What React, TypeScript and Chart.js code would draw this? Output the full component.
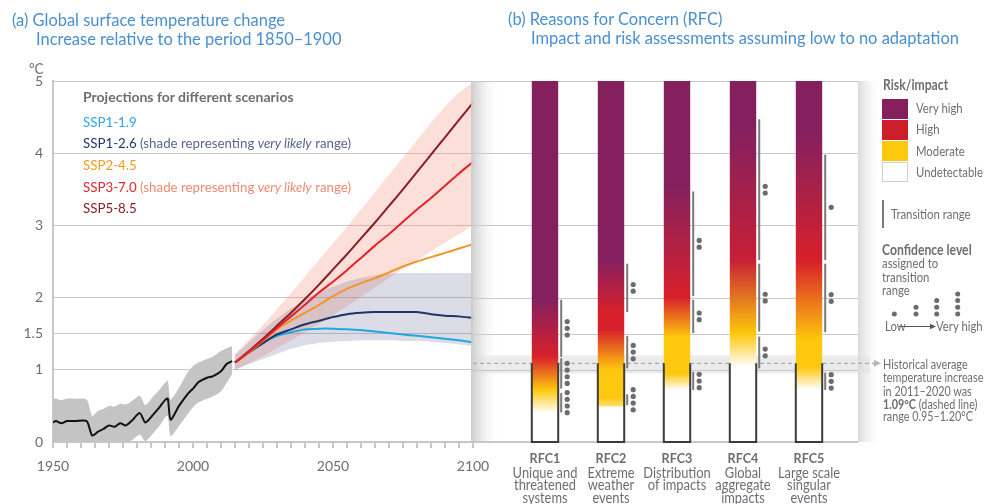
import React, { useEffect, useRef } from "react";
import { Chart, registerables } from "chart.js";
Chart.register(...registerables);

const FONT = 'Lato, "Noto Sans", sans-serif';
const GRAY_TEXT = "#6d6e71";
const GRID = "#c8c8c8";

// ---------- Panel (a) data ----------
const histYears = [1950, 1951, 1953, 1955, 1958, 1962, 1964, 1966, 1968, 1970, 1972, 1974, 1976, 1978, 1981, 1983, 1986, 1988, 1990, 1991, 1992, 1995, 1998, 2000, 2002, 2005, 2007, 2010, 2012, 2014];
const histMean = [0.27, 0.29, 0.26, 0.29, 0.29, 0.29, 0.09, 0.14, 0.18, 0.23, 0.21, 0.26, 0.23, 0.29, 0.40, 0.27, 0.39, 0.48, 0.58, 0.60, 0.31, 0.50, 0.66, 0.74, 0.83, 0.89, 0.91, 0.98, 1.08, 1.12];
const histHigh = [0.60, 0.60, 0.58, 0.60, 0.60, 0.59, 0.36, 0.43, 0.46, 0.50, 0.49, 0.53, 0.52, 0.56, 0.64, 0.51, 0.64, 0.72, 0.82, 0.85, 0.59, 0.75, 0.96, 1.05, 1.10, 1.15, 1.18, 1.26, 1.30, 1.33];
const histLow = [0, 0, 0, 0, 0, 0, 0, 0, 0, 0, 0, 0, 0, 0.02, 0.10, 0.01, 0.13, 0.22, 0.34, 0.36, 0.08, 0.22, 0.38, 0.48, 0.55, 0.60, 0.63, 0.70, 0.82, 0.94];

const projYears = [2015, 2020, 2025, 2030, 2035, 2040, 2045, 2050, 2055, 2060, 2065, 2070, 2075, 2080, 2085, 2090, 2095, 2100];
const ssp119 = [1.10, 1.24, 1.37, 1.47, 1.52, 1.56, 1.57, 1.57, 1.56, 1.55, 1.53, 1.51, 1.49, 1.47, 1.45, 1.43, 1.41, 1.38];
const ssp126 = [1.10, 1.24, 1.37, 1.49, 1.56, 1.63, 1.68, 1.73, 1.77, 1.79, 1.80, 1.80, 1.80, 1.80, 1.77, 1.75, 1.74, 1.72];
const ssp245 = [1.10, 1.24, 1.40, 1.56, 1.68, 1.79, 1.90, 2.02, 2.12, 2.20, 2.27, 2.35, 2.43, 2.50, 2.56, 2.62, 2.68, 2.74];
const ssp370 = [1.10, 1.25, 1.41, 1.58, 1.74, 1.90, 2.07, 2.22, 2.38, 2.55, 2.72, 2.88, 3.05, 3.22, 3.38, 3.55, 3.72, 3.88];
const ssp585 = [1.10, 1.26, 1.43, 1.61, 1.79, 1.98, 2.18, 2.39, 2.60, 2.82, 3.04, 3.27, 3.50, 3.74, 3.98, 4.22, 4.46, 4.70];
const ssp126Low = [1.00, 1.08, 1.15, 1.22, 1.29, 1.34, 1.37, 1.39, 1.40, 1.41, 1.41, 1.41, 1.40, 1.40, 1.39, 1.37, 1.35, 1.33];
const ssp126High = [1.20, 1.38, 1.55, 1.71, 1.85, 1.97, 2.07, 2.15, 2.22, 2.27, 2.31, 2.33, 2.34, 2.34, 2.34, 2.34, 2.34, 2.34];
const ssp370Low = [1.00, 1.09, 1.19, 1.30, 1.41, 1.52, 1.64, 1.76, 1.88, 2.01, 2.14, 2.27, 2.40, 2.52, 2.64, 2.76, 2.88, 3.00];
const ssp370High = [1.22, 1.42, 1.62, 1.84, 2.06, 2.29, 2.52, 2.75, 2.98, 3.22, 3.46, 3.70, 3.94, 4.18, 4.42, 4.64, 4.84, 4.98];

const yTicks = [0, 1, 1.5, 2, 3, 4, 5];
const xLabelYears = [1950, 2000, 2050, 2100];

// ---------- Panel (b) data ----------
const rfcNames = ["RFC1", "RFC2", "RFC3", "RFC4", "RFC5"];
const rfcDescriptions = [
  ["Unique and", "threatened", "systems"],
  ["Extreme", "weather", "events"],
  ["Distribution", "of impacts"],
  ["Global", "aggregate", "impacts"],
  ["Large scale", "singular", "events"],
];
const riskLevels = ["Undetectable", "Moderate", "High", "Very high"];
const riskTop = 5;
// [temperature °C, risk level (0 undetectable … 3 very high)]
const rfcGradients = [
  [[5, 3], [1.97, 3], [1.18, 2], [0.72, 1], [0.4, 0], [0, 0]],
  [[5, 3], [2.52, 3], [1.8, 2], [1.55, 2], [1.0, 1], [0.62, 1], [0.495, 0.6], [0.49, 0], [0, 0]],
  [[5, 3], [3.54, 3], [2.0, 2], [1.45, 1], [0.95, 1], [0.72, 0], [0, 0]],
  [[5, 3], [4.3, 3], [2.52, 2.2], [1.5, 1], [1.04, 0], [0, 0]],
  [[5, 3], [4.28, 3], [2.5, 2], [1.41, 1], [1.04, 1], [0.72, 0], [0, 0]],
];
// [low °C, high °C, confidence dots]
const rfcTransitions = [
  [[1.18, 1.97, 3], [0.74, 1.16, 4], [0.41, 0.68, 4]],
  [[1.8, 2.47, 2], [1.02, 1.47, 3], [0.51, 0.66, 4]],
  [[2.02, 3.47, 2], [1.51, 1.97, 2], [0.72, 0.97, 3]],
  [[2.52, 4.47, 2], [1.53, 2.47, 2], [1.02, 1.46, 2]],
  [[2.52, 3.98, 1], [1.52, 2.47, 2], [0.72, 0.96, 3]],
];
const historicalMean = 1.09;
const historicalRange = [0.95, 1.2];

// ---------- styles ----------
const levelColors = ["#ffffff", "#fdc80d", "#d8202a", "#85205f"];
const swatchColors = ["#ffffff", "#fdc80d", "#cc1f2a", "#85205f"];
const PANEL_L = 471;
const PANEL_R = 858;

function hexToRgb(h: string) {
  const n = parseInt(h.slice(1), 16);
  return [(n >> 16) & 255, (n >> 8) & 255, n & 255];
}
function levelColor(level: number) {
  const lo = Math.min(3, Math.floor(level));
  const hi = Math.min(3, lo + 1);
  const t = level - lo;
  const a = hexToRgb(levelColors[lo]);
  const b = hexToRgb(levelColors[hi]);
  return `rgb(${a.map((c, k) => Math.round(c + (b[k] - c) * t)).join(",")})`;
}

const pts = (xs: number[], ys: number[]) => xs.map((x, i) => ({ x, y: ys[i] }));

function lineDs(label: string, xs: number[], ys: number[], color: string, width = 2) {
  return { label, data: pts(xs, ys), borderColor: color, borderWidth: width, pointRadius: 0, fill: false, tension: 0.25 };
}
function bandHigh(label: string, xs: number[], ys: number[], color: string) {
  return { label, data: pts(xs, ys), borderWidth: 0, borderColor: "transparent", pointRadius: 0, fill: "+1", backgroundColor: color, tension: 0.25 };
}
function bandLow(label: string, xs: number[], ys: number[]) {
  return { label, data: pts(xs, ys), borderWidth: 0, borderColor: "transparent", pointRadius: 0, fill: false, tension: 0.25 };
}

function squeezedText(ctx: any, text: string, x: number, y: number, sx: number) {
  ctx.save();
  ctx.translate(x, y);
  ctx.scale(sx, 1);
  ctx.fillText(text, 0, 0);
  ctx.restore();
}

const panelPlugin = {
  id: "rfcPanel",
  beforeDatasetsDraw(chart: any) {
    const { ctx } = chart;
    const y = chart.scales.y;
    const top = y.getPixelForValue(riskTop);
    const bottom = y.getPixelForValue(0);
    ctx.save();
    const b1 = y.getPixelForValue(historicalRange[1]);
    const b0 = y.getPixelForValue(historicalRange[0]);
    ctx.fillStyle = "#ebebeb";
    ctx.fillRect(PANEL_L + 2, b1, PANEL_R + 10 - PANEL_L, b0 - b1);
    let g = ctx.createLinearGradient(PANEL_L, 0, PANEL_L + 28, 0);
    g.addColorStop(0, "rgba(200,200,200,0.9)");
    g.addColorStop(0.35, "rgba(222,222,222,0.7)");
    g.addColorStop(1, "rgba(255,255,255,0)");
    ctx.fillStyle = g;
    ctx.fillRect(PANEL_L, top, 28, bottom - top);
    g = ctx.createLinearGradient(PANEL_R, 0, PANEL_R + 24, 0);
    g.addColorStop(0, "rgba(218,218,218,1)");
    g.addColorStop(1, "rgba(255,255,255,0)");
    ctx.fillStyle = g;
    ctx.fillRect(PANEL_R, top, 24, bottom - top);
    ctx.strokeStyle = GRID;
    ctx.lineWidth = 1;
    for (const v of yTicks) {
      const py = Math.round(y.getPixelForValue(v)) + 0.5;
      ctx.beginPath();
      ctx.moveTo(PANEL_L, py);
      ctx.lineTo(PANEL_R, py);
      ctx.stroke();
    }
    ctx.lineWidth = 2;
    ctx.beginPath();
    ctx.moveTo(PANEL_L, bottom);
    ctx.lineTo(PANEL_R, bottom);
    ctx.stroke();
    const my = y.getPixelForValue(historicalMean);
    ctx.strokeStyle = "#aaaaaa";
    ctx.lineWidth = 1.2;
    ctx.setLineDash([4, 3]);
    ctx.beginPath();
    ctx.moveTo(PANEL_L + 2, my);
    ctx.lineTo(PANEL_R + 16, my);
    ctx.stroke();
    ctx.setLineDash([]);
    ctx.fillStyle = "#b8b8b8";
    ctx.beginPath();
    ctx.moveTo(PANEL_R + 16, my - 3.5);
    ctx.lineTo(PANEL_R + 23, my);
    ctx.lineTo(PANEL_R + 16, my + 3.5);
    ctx.closePath();
    ctx.fill();
    ctx.restore();
  },
  afterDatasetsDraw(chart: any) {
    const { ctx } = chart;
    const y = chart.scales.y;
    const meta = chart.getDatasetMeta(0);
    const yHist = y.getPixelForValue(historicalMean);
    const yBot = y.getPixelForValue(0);
    ctx.save();
    meta.data.forEach((bar: any, i: number) => {
      const { x, width } = bar.getProps(["x", "width"], true);
      const l = x - width / 2;
      const r = x + width / 2;
      ctx.strokeStyle = "#3c3c3c";
      ctx.lineWidth = 2;
      ctx.beginPath();
      ctx.moveTo(l, yHist);
      ctx.lineTo(l, yBot);
      ctx.lineTo(r, yBot);
      ctx.lineTo(r, yHist);
      ctx.stroke();
      for (const [lo, hi, conf] of rfcTransitions[i]) {
        const lx = r + 3;
        ctx.strokeStyle = "#7a7a7a";
        ctx.lineWidth = 2;
        ctx.beginPath();
        ctx.moveTo(lx, y.getPixelForValue(hi));
        ctx.lineTo(lx, y.getPixelForValue(lo));
        ctx.stroke();
        const mid = y.getPixelForValue((lo + hi) / 2);
        ctx.fillStyle = "#6c6c6c";
        for (let k = 0; k < conf; k++) {
          const dy = (k - (conf - 1) / 2) * 6.7;
          ctx.beginPath();
          ctx.arc(r + 9, mid + dy, 2.6, 0, Math.PI * 2);
          ctx.fill();
        }
      }
      ctx.fillStyle = GRAY_TEXT;
      ctx.textAlign = "center";
      ctx.textBaseline = "alphabetic";
      ctx.font = `bold 14px ${FONT}`;
      squeezedText(ctx, rfcNames[i], x, yBot + 20.5, 0.9);
      ctx.font = `15.5px ${FONT}`;
      rfcDescriptions[i].forEach((line, j) => squeezedText(ctx, line, x, yBot + 36 + j * 12.3, 0.83));
    });
    ctx.restore();
  },
};

function T(props: { x: number; y: number; size?: number; color?: string; bold?: boolean; sx?: number; children: any }) {
  const { x, y, size = 14, color = GRAY_TEXT, bold = false, sx = 1, children } = props;
  return (
    <div style={{ position: "absolute", left: x, top: y, transform: `translateY(-50%) scaleX(${sx})`, transformOrigin: "0 50%", fontSize: size, color, fontWeight: bold ? 700 : 400, lineHeight: 1, whiteSpace: "nowrap" }}>
      {children}
    </div>
  );
}

export default function App() {
  const leftRef = useRef<HTMLCanvasElement>(null);
  const rightRef = useRef<HTMLCanvasElement>(null);

  useEffect(() => {
    const tickFont = { family: FONT, size: 14 };
    const left = new Chart(leftRef.current as HTMLCanvasElement, {
      type: "line",
      data: {
        datasets: [
          lineDs("SSP3-7.0", projYears, ssp370, "#e3222b"),
          lineDs("SSP5-8.5", projYears, ssp585, "#8c1c25"),
          lineDs("SSP2-4.5", projYears, ssp245, "#f0962a"),
          lineDs("SSP1-2.6", projYears, ssp126, "#1d3666"),
          lineDs("SSP1-1.9", projYears, ssp119, "#1fa7de"),
          lineDs("Observed", histYears, histMean, "#111111", 2),
          bandHigh("SSP1-2.6 high", projYears, ssp126High, "rgba(95,95,145,0.22)"),
          bandLow("SSP1-2.6 low", projYears, ssp126Low),
          bandHigh("SSP3-7.0 high", projYears, ssp370High, "rgba(240,140,115,0.28)"),
          bandLow("SSP3-7.0 low", projYears, ssp370Low),
          bandHigh("Observed high", histYears, histHigh, "#c4c4c4"),
          bandLow("Observed low", histYears, histLow),
        ] as any,
      },
      options: {
        responsive: false,
        animation: false,
        devicePixelRatio: 1,
        layout: { padding: { left: 0, top: 81, right: 988 - 473, bottom: 0 } },
        plugins: { legend: { display: false }, tooltip: { enabled: false } },
        scales: {
          x: {
            type: "linear",
            min: 1950,
            max: 2100,
            afterFit: (s: any) => { s.height = 62; },
            ticks: {
              stepSize: 5,
              autoSkip: false,
              maxRotation: 0,
              color: GRAY_TEXT,
              font: tickFont,
              padding: 10,
              callback: (v: any) => (xLabelYears.includes(Number(v)) ? String(v) : ""),
            },
            grid: { drawOnChartArea: false, drawTicks: true, tickLength: 6, color: GRID, lineWidth: 2 },
            border: { display: true, color: GRID, width: 2 },
          },
          y: {
            type: "linear",
            min: 0,
            max: 5,
            afterFit: (s: any) => { s.width = 53; },
            afterBuildTicks: (s: any) => { s.ticks = yTicks.map((v) => ({ value: v })); },
            ticks: { color: GRAY_TEXT, font: tickFont, padding: 10, callback: (v: any) => String(v) },
            grid: { drawTicks: false, color: GRID, lineWidth: 1 },
            border: { display: true, color: GRID, width: 2 },
          },
        },
      } as any,
    });

    const right = new Chart(rightRef.current as HTMLCanvasElement, {
      type: "bar",
      data: {
        labels: rfcNames,
        datasets: [
          {
            label: "Risk",
            data: rfcNames.map(() => [0, riskTop]),
            barPercentage: 0.4,
            categoryPercentage: 1,
            borderWidth: 0,
            backgroundColor: (c: any) => {
              const chart = c.chart;
              const y = chart.scales && chart.scales.y;
              if (!chart.chartArea || !y || c.dataIndex === undefined) return levelColors[3];
              const g = chart.ctx.createLinearGradient(0, y.getPixelForValue(0), 0, y.getPixelForValue(riskTop));
              for (const [v, lvl] of rfcGradients[c.dataIndex]) g.addColorStop(v / riskTop, levelColor(lvl));
              return g;
            },
          },
        ] as any,
      },
      options: {
        responsive: false,
        animation: false,
        devicePixelRatio: 1,
        layout: { padding: { left: 512, top: 81, right: 988 - 842, bottom: 62 } },
        plugins: { legend: { display: false }, tooltip: { enabled: false } },
        scales: {
          x: { type: "category", display: false },
          y: { type: "linear", min: 0, max: riskTop, display: false },
        },
      } as any,
      plugins: [panelPlugin],
    });

    return () => {
      left.destroy();
      right.destroy();
    };
  }, []);

  const blue = "#4a8fcf";
  const confDots = [1, 2, 3, 4];
  const confX = [894.3, 916, 936.7, 957.7];

  return (
    <div style={{ position: "fixed", left: 0, top: 0, width: 988, height: 504, background: "#ffffff", overflow: "hidden", fontFamily: FONT }}>
      <canvas ref={leftRef} width={988} height={504} style={{ position: "absolute", left: 0, top: 0 }} />
      <canvas ref={rightRef} width={988} height={504} style={{ position: "absolute", left: 0, top: 0 }} />

      <T x={12} y={20} size={17.5} sx={0.94} color={blue}>(a) Global surface temperature change</T>
      <T x={36} y={39} size={17.5} sx={0.94} color={blue}>Increase relative to the period 1850–1900</T>
      <T x={508} y={19} size={17.5} sx={0.94} color={blue}>(b) Reasons for Concern (RFC)</T>
      <T x={531} y={38} size={17.5} sx={0.94} color={blue}>Impact and risk assessments assuming low to no adaptation</T>

      <T x={29} y={68} size={15} sx={0.9}>°C</T>

      <T x={83} y={97} size={14} bold>Projections for different scenarios</T>
      <T x={83} y={121.7} size={14} sx={0.95} color="#2aa8df">SSP1-1.9</T>
      <T x={83} y={143.3} size={14} sx={0.95} color="#1f3a6c">
        SSP1-2.6 <span style={{ color: "#5a6591" }}>(shade representing <i>very likely</i> range)</span>
      </T>
      <T x={83} y={165} size={14} sx={0.95} color="#f39a23">SSP2-4.5</T>
      <T x={83} y={186.7} size={14} sx={0.95} color="#e3262d">
        SSP3-7.0 <span style={{ color: "#f08a70" }}>(shade representing <i>very likely</i> range)</span>
      </T>
      <T x={83} y={208.3} size={14} sx={0.95} color="#8b1d24">SSP5-8.5</T>

      <T x={882.5} y={85} size={14.5} bold sx={0.84}>Risk/impact</T>
      {[3, 2, 1, 0].map((lvl, k) => (
        <React.Fragment key={lvl}>
          <div style={{ position: "absolute", left: 882, top: 98.5 + k * 21, width: 26, height: 20.5, background: swatchColors[lvl], boxSizing: "border-box", border: lvl === 0 ? "1px solid #d0d0d0" : "none" }} />
          <T x={916} y={109.3 + k * 21.1} size={13.5} sx={0.84}>{riskLevels[lvl]}</T>
        </React.Fragment>
      ))}
      <div style={{ position: "absolute", left: 881.5, top: 200, width: 2, height: 28, background: "#7a7a7a" }} />
      <T x={890.5} y={215} size={13.5} sx={0.84}>Transition range</T>
      <T x={882} y={250} size={14.5} bold sx={0.84}>Confidence level</T>
      <T x={882} y={264.3} size={13.5} sx={0.84}>assigned to</T>
      <T x={882} y={277.7} size={13.5} sx={0.84}>transition</T>
      <T x={882} y={291} size={13.5} sx={0.84}>range</T>
      <svg style={{ position: "absolute", left: 0, top: 0 }} width={988} height={504}>
        {confDots.map((n, k) =>
          Array.from({ length: n }).map((_, j) => (
            <circle key={`${k}-${j}`} cx={confX[k]} cy={314 - j * 6.7} r={2.5} fill="#6c6c6c" />
          ))
        )}
        <line x1={899} y1={326.5} x2={931} y2={326.5} stroke="#555" strokeWidth={1} />
        <polygon points="930,323.8 936,326.5 930,329.2" fill="#555" />
      </svg>
      <T x={885} y={326.7} size={13.5} sx={0.84}>Low</T>
      <T x={936} y={326.7} size={13.5} sx={0.84}>Very high</T>

      <T x={882.7} y={365} size={13.5} sx={0.8}>Historical average</T>
      <T x={882.7} y={378.3} size={13.5} sx={0.8}>temperature increase</T>
      <T x={882.7} y={391.7} size={13.5} sx={0.8}>in 2011–2020 was</T>
      <T x={882.7} y={405} size={13.5} sx={0.8}><b>1.09°C</b> (dashed line)</T>
      <T x={882.7} y={417.3} size={13.5} sx={0.8}>range 0.95–1.20°C</T>
    </div>
  );
}
